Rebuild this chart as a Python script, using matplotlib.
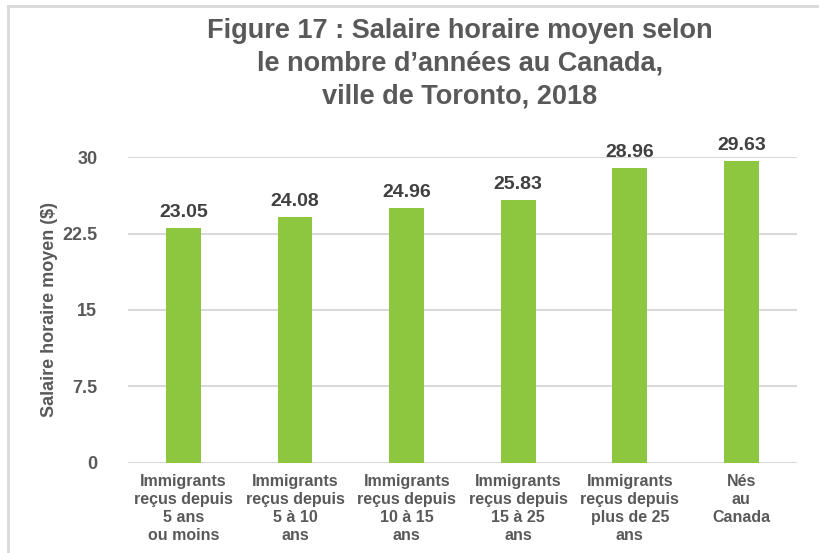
import matplotlib.pyplot as plt
from matplotlib.lines import Line2D

plt.rcParams['font.family'] = ['Liberation Sans', 'DejaVu Sans']

# data
categories = ['Immigrants\nreçus depuis\n5 ans\nou moins',
              'Immigrants\nreçus depuis\n5 à 10\nans',
              'Immigrants\nreçus depuis\n10 à 15\nans',
              'Immigrants\nreçus depuis\n15 à 25\nans',
              'Immigrants\nreçus depuis\nplus de 25\nans',
              'Nés\nau\nCanada']
wages = [23.05, 24.08, 24.96, 25.83, 28.96, 29.63]
yticks = [0, 7.5, 15, 22.5, 30]
ytick_labels = ['0', '7.5', '15', '22.5', '30']

title = 'Figure 17 : Salaire horaire moyen selon\nle nombre d\u2019années au Canada,\nville de Toronto, 2018'

grey_txt = '#595959'
bar_color = '#8DC63F'

fig = plt.figure(figsize=(8.2, 5.53), dpi=100)
ax = fig.add_axes([0.156, 0.163, 0.816, 0.553])

x = range(len(wages))
bars = ax.bar(x, wages, width=0.31, color=bar_color, zorder=3)

for b, v in zip(bars, wages):
    ax.annotate('%.2f' % v, (b.get_x() + b.get_width() / 2, v),
                xytext=(0, 5), textcoords='offset points',
                ha='center', va='bottom', fontsize=14, fontweight='bold',
                color='#404040', annotation_clip=False)

ax.set_xlim(-0.5, len(wages) - 0.5)
ax.set_ylim(0, 30)
ax.set_yticks(yticks)
ax.set_yticklabels(ytick_labels, fontsize=13, fontweight='bold', color=grey_txt)
ax.set_xticks(list(x))
ax.set_xticklabels(categories, fontsize=11.5, fontweight='bold', color=grey_txt,
                   linespacing=1.25)
ax.tick_params(axis='both', length=0)
ax.tick_params(axis='y', pad=22)
ax.tick_params(axis='x', pad=8)
ax.grid(axis='y', color='#D9D9D9', linewidth=1.5, zorder=0)
for s in ax.spines.values():
    s.set_visible(False)

ax.set_ylabel('Salaire horaire moyen ($)', fontsize=13, fontweight='bold',
              color=grey_txt, labelpad=3)

fig.text(0.561, 0.968, title, ha='center', va='top', fontsize=19.5,
         fontweight='bold', color=grey_txt, linespacing=1.35)

# light border round the chart area
fig.add_artist(Line2D([8 / 820, 8 / 820], [0, 1 - 6 / 553], color='#D9D9D9', lw=2,
                      transform=fig.transFigure))
fig.add_artist(Line2D([8 / 820, 1], [1 - 6 / 553, 1 - 6 / 553], color='#D9D9D9', lw=2,
                      transform=fig.transFigure))

fig.savefig('out.png', dpi=100)
